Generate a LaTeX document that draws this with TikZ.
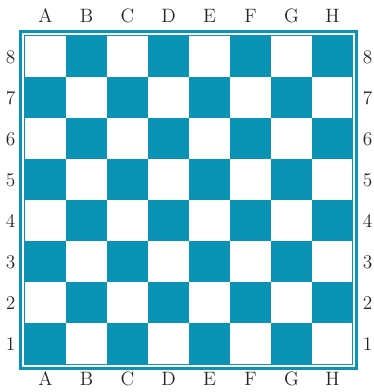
\documentclass[tikz,border=0pt]{standalone}
\usepackage{xcolor}
\usepackage{tikz}
\definecolor{boardteal}{HTML}{0A93B4}

\begin{document}
\begin{tikzpicture}[
  x=0.75pt,y=-0.75pt,
  every node/.style={font=\fontsize{14.5}{16}\selectfont,inner sep=0pt,text=black!85},
  dark/.style={fill=boardteal},
  light/.style={fill=white},
  frame/.style={draw=boardteal,line width=3*0.75pt},
  innerframe/.style={draw=boardteal,line width=1.2*0.75pt}
]
\useasboundingbox (0,0) rectangle (374,392);
% frame
\draw[frame] (20.5,31.5) rectangle (356.5,368.5);
\draw[innerframe] (24.2,35.2) rectangle (352.8,364.8);
% squares
\foreach \c in {0,...,7}{
  \foreach \r in {0,...,7}{
    \pgfmathtruncatemacro{\odd}{mod(\c+\r,2)}
    \ifnum\odd=1
      \fill[dark] (25+41*\c,36+41*\r) rectangle ++(41,41);
    \fi
  }
}
% file letters
\foreach \f [count=\i from 0] in {A,B,C,D,E,F,G,H}{
  \node (top\f) at (45.5+41*\i,16) {\f};
  \node (bot\f) at (45.5+41*\i,379) {\f};
}
% rank numbers
\foreach \n [count=\i from 0] in {8,7,6,5,4,3,2,1}{
  \node (left\n) at (10.5,57+41*\i) {\n};
  \node (right\n) at (367.5,57+41*\i) {\n};
}
\end{tikzpicture}
\end{document}
